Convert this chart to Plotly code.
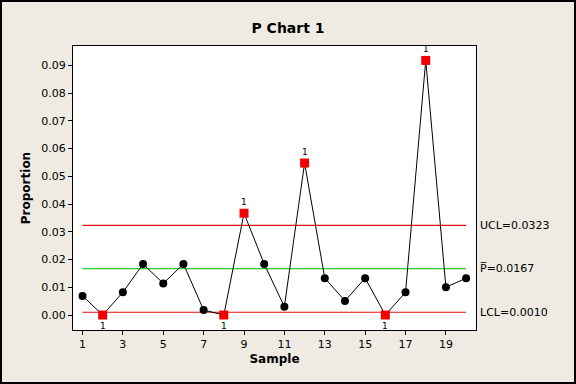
import plotly.graph_objects as go

samples = list(range(1, 21))
proportions = [0.0069, 0.0, 0.0082, 0.0184, 0.0114, 0.0184, 0.0018, 0.0, 0.0367, 0.0184,
               0.0030, 0.0548, 0.0133, 0.0051, 0.0133, 0.0, 0.0082, 0.0918, 0.0100, 0.0133]
ucl = 0.0323
pbar = 0.0167
lcl = 0.0010
x_ticks = [1, 3, 5, 7, 9, 11, 13, 15, 17, 19]
y_ticks = [0.00, 0.01, 0.02, 0.03, 0.04, 0.05, 0.06, 0.07, 0.08, 0.09]

FONT = "DejaVu Sans"
BG = "#EFEBE3"

out_x = [s for s, p in zip(samples, proportions) if p > ucl or p < lcl]
out_y = [p for s, p in zip(samples, proportions) if p > ucl or p < lcl]
in_x = [s for s, p in zip(samples, proportions) if lcl <= p <= ucl]
in_y = [p for s, p in zip(samples, proportions) if lcl <= p <= ucl]

fig = go.Figure()
for val, col in [(ucl, "#E01010"), (pbar, "#2ECC2E"), (lcl, "#E01010")]:
    fig.add_trace(go.Scatter(x=[samples[0], samples[-1]], y=[val, val], mode="lines",
                             line=dict(color=col, width=1.2), hoverinfo="skip", showlegend=False))

fig.add_trace(go.Scatter(x=samples, y=proportions, mode="lines",
                         line=dict(color="black", width=1), showlegend=False))
fig.add_trace(go.Scatter(x=in_x, y=in_y, mode="markers",
                         marker=dict(color="black", size=8, symbol="circle"), showlegend=False))
fig.add_trace(go.Scatter(x=out_x, y=out_y, mode="markers",
                         marker=dict(color="#F00000", size=9, symbol="square"), showlegend=False))

for s, p in zip(out_x, out_y):
    fig.add_annotation(x=s, y=p, text="1", showarrow=False,
                       yshift=11 if p > ucl else -11,
                       font=dict(family=FONT, size=9, color="black"))

for val, txt in [(ucl, "UCL=0.0323"), (pbar, "P\u0305=0.0167"), (lcl, "LCL=0.0010")]:
    fig.add_annotation(x=1, xref="paper", y=val, text=txt, showarrow=False,
                       xanchor="left", xshift=2, font=dict(family=FONT, size=11, color="black"))

fig.add_shape(type="rect", xref="paper", yref="paper", x0=-72/403, x1=1 + 99/403,
              y0=-53/284, y1=1 + 45/284, line=dict(color="black", width=2), layer="above")

fig.update_layout(
    width=576, height=384,
    paper_bgcolor=BG, plot_bgcolor="white",
    margin=dict(l=73, r=100, t=46, b=54),
    title=dict(text="<b>P Chart 1</b>", x=0.5, xanchor="center", y=0.927, yanchor="middle",
               font=dict(family=FONT, size=14, color="black")),
    xaxis=dict(range=[0.53, 20.49], tickvals=x_ticks, showgrid=False, zeroline=False,
               showline=True, linecolor="black", linewidth=1, mirror=True,
               ticks="outside", ticklen=4, tickcolor="black",
               tickfont=dict(family=FONT, size=11, color="black"),
               title=dict(text="<b>Sample</b>", font=dict(family=FONT, size=12, color="black"), standoff=4)),
    yaxis=dict(range=[-0.0054, 0.097], tickvals=y_ticks, tickformat=".2f", showgrid=False, zeroline=False,
               showline=True, linecolor="black", linewidth=1, mirror=True,
               ticks="outside", ticklen=4, tickcolor="black",
               tickfont=dict(family=FONT, size=11, color="black"),
               title=dict(text="<b>Proportion</b>", font=dict(family=FONT, size=12, color="black"), standoff=8)),
)

fig.write_html("out.html", config={"displayModeBar": False},
               post_script="document.body.style.margin='0';document.body.style.overflow='hidden';")
